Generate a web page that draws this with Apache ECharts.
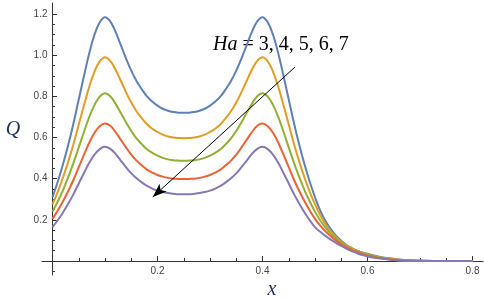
<!DOCTYPE html>
<html><head><meta charset="utf-8">
<script src="https://cdn.jsdelivr.net/npm/echarts@6/dist/echarts.min.js"></script>
<style>html,body{margin:0;padding:0;background:#fff}#c{width:484px;height:299px}</style>
</head><body><div id="c"></div>
<script>
const xs = [0,0.01,0.02,0.03,0.04,0.05,0.06,0.07,0.08,0.09,0.1,
  0.11,0.12,0.13,0.14,0.15,0.16,0.17,0.18,0.19,0.2,0.21,0.22,0.23,0.24,0.25,
  0.26,0.27,0.28,0.29,0.3,0.31,0.32,0.33,0.34,0.35,0.36,0.37,0.38,0.39,0.4,
  0.41,0.42,0.43,0.44,0.45,0.46,0.47,0.48,0.49,0.5,
  0.51,0.52,0.53,0.54,0.55,0.56,0.57,0.58,0.59,0.6,
  0.62,0.64,0.66,0.68,0.7,0.75,0.8];

const qHa3 = [0.31,0.385,0.47,0.565,0.67,0.785,0.9,1.01,1.1,1.16,1.185,
  1.165,1.115,1.05,0.985,0.925,0.875,0.835,0.80,0.775,0.755,0.74,0.73,0.724,0.721,0.72,
  0.721,0.724,0.73,0.74,0.755,0.775,0.80,0.835,0.875,0.925,0.985,1.05,1.115,1.165,1.185,
  1.16,1.1,1.01,0.9,0.785,0.67,0.565,0.47,0.385,0.31,
  0.245,0.195,0.155,0.123,0.098,0.078,0.063,0.05,0.042,0.035,
  0.022,0.013,0.007,0.003,0.001,0,0];

const qHa4 = [0.275,0.336,0.406,0.483,0.569,0.663,0.757,0.847,0.921,0.970,0.99,
  0.973,0.931,0.876,0.821,0.770,0.728,0.694,0.665,0.643,0.627,0.614,0.605,0.600,0.598,0.597,
  0.598,0.600,0.605,0.614,0.627,0.643,0.665,0.694,0.728,0.770,0.821,0.876,0.931,0.973,0.99,
  0.970,0.921,0.847,0.757,0.663,0.569,0.483,0.406,0.336,0.275,
  0.222,0.179,0.144,0.116,0.094,0.076,0.061,0.049,0.040,0.032,
  0.020,0.012,0.006,0.003,0.001,0,0];

const qHa5 = [0.24,0.289,0.345,0.408,0.477,0.552,0.628,0.70,0.759,0.799,0.815,
  0.801,0.765,0.720,0.674,0.632,0.596,0.568,0.543,0.526,0.512,0.501,0.494,0.490,0.488,0.487,
  0.488,0.490,0.494,0.501,0.512,0.526,0.543,0.568,0.596,0.632,0.674,0.720,0.765,0.801,0.815,
  0.799,0.759,0.70,0.628,0.552,0.477,0.408,0.345,0.289,0.24,
  0.197,0.162,0.132,0.108,0.088,0.071,0.057,0.046,0.037,0.029,
  0.018,0.010,0.005,0.002,0.001,0,0];

const qHa6 = [0.205,0.245,0.290,0.340,0.395,0.456,0.517,0.575,0.623,0.655,0.668,
  0.657,0.627,0.590,0.552,0.517,0.488,0.465,0.444,0.430,0.418,0.410,0.404,0.400,0.399,0.398,
  0.399,0.400,0.404,0.410,0.418,0.430,0.444,0.465,0.488,0.517,0.552,0.590,0.627,0.657,0.668,
  0.655,0.623,0.575,0.517,0.456,0.395,0.340,0.290,0.245,0.205,
  0.172,0.144,0.12,0.099,0.081,0.066,0.053,0.043,0.034,0.026,
  0.016,0.009,0.004,0.002,0.001,0,0];

const qHa7 = [0.165,0.198,0.236,0.279,0.325,0.377,0.428,0.477,0.517,0.544,0.555,
  0.545,0.521,0.488,0.456,0.426,0.402,0.382,0.365,0.352,0.342,0.335,0.330,0.327,0.325,0.325,
  0.325,0.327,0.330,0.335,0.342,0.352,0.365,0.382,0.402,0.426,0.456,0.488,0.521,0.545,0.555,
  0.544,0.517,0.477,0.428,0.377,0.325,0.279,0.236,0.198,0.165,
  0.142,0.122,0.104,0.088,0.073,0.06,0.048,0.038,0.029,0.022,
  0.013,0.007,0.003,0.001,0,0,0];

const seriesNames = ['Ha = 3','Ha = 4','Ha = 5','Ha = 6','Ha = 7'];
const seriesColors = ['#5E81B5','#E19C24','#8FB032','#EB6235','#8778B3'];

const xLabels = [0.2,0.4,0.6,0.8];
const xMajorTicks = [0.2,0.4,0.6,0.8];
const xMinorTicks = [0.05,0.1,0.15,0.25,0.3,0.35,0.45,0.5,0.55,0.65,0.7,0.75];
const yLabels = [0.2,0.4,0.6,0.8,1.0,1.2];
const yMajorTicks = [0.2,0.4,0.6,0.8,1.0,1.2];
const yMinorTicks = [-0.05,0.05,0.1,0.15,0.25,0.3,0.35,0.45,0.5,0.55,0.65,0.7,0.75,0.85,0.9,0.95,1.05,1.1,1.15];

const arrowFrom = [0.462, 0.943];
const arrowTo = [0.191, 0.311];

const chart = echarts.init(document.getElementById('c'), null, {renderer:'canvas'});
const allQ = [qHa3,qHa4,qHa5,qHa6,qHa7];
const axisCol = '#333';
const lblStyle = {color:'#444', fontSize:10, fontFamily:'Liberation Sans, Arial, sans-serif', formatter: v => Number(v).toFixed(1)};

// grid 0: plot with axis lines through the origin, ticks and data; grid 1: tick labels only
function xAx(major){
  return {
    gridIndex:0, type:'value', min:-0.02, max:0.82, position:'bottom',
    axisLine:{show:major, onZero:true, onZeroAxisIndex:0, lineStyle:{color:axisCol, width:1}},
    axisTick:{show:true, inside:true, length: major?5:3, customValues: major?xMajorTicks:xMinorTicks, lineStyle:{color:axisCol, width:1}},
    axisLabel:{show:false}, splitLine:{show:false}
  };
}
function yAx(major){
  return {
    gridIndex:0, type:'value', min:-0.068, max:1.254, position:'left',
    axisLine:{show:major, onZero:true, onZeroAxisIndex:0, lineStyle:{color:axisCol, width:1}},
    axisTick:{show:true, inside:true, length: major?4.5:2.5, customValues: major?yMajorTicks:yMinorTicks, lineStyle:{color:axisCol, width:1}},
    axisLabel:{show:false}, splitLine:{show:false}
  };
}
const xLabelAxis = {
  gridIndex:1, type:'value', min:0, max:0.8, position:'bottom',
  axisLine:{show:false, onZero:false}, axisTick:{show:false}, splitLine:{show:false},
  axisLabel:Object.assign({show:true, margin:5, customValues:xLabels, showMinLabel:true, showMaxLabel:true}, lblStyle)
};
const yLabelAxis = {
  gridIndex:1, type:'value', min:0, max:1.2, position:'left',
  axisLine:{show:false, onZero:false}, axisTick:{show:false}, splitLine:{show:false},
  axisLabel:Object.assign({show:true, margin:5, customValues:yLabels, showMinLabel:true, showMaxLabel:true}, lblStyle)
};

const series = allQ.map((arr,i) => ({
  name: seriesNames[i], type:'line', xAxisIndex:0, yAxisIndex:0,
  data: xs.map((x,k) => [x, arr[k]]),
  showSymbol:false, smooth:0.4,
  lineStyle:{color:seriesColors[i], width:2}, itemStyle:{color:seriesColors[i]},
  z: 2 + i, silent:true
}));
series[0].markLine = {
  silent:true, symbol:['none','arrow'], symbolSize:[8,14], animation:false,
  lineStyle:{color:'#000', width:1, type:'solid'}, label:{show:false}, emphasis:{disabled:true},
  data:[[{coord:arrowFrom},{coord:arrowTo}]], z: 20
};

chart.setOption({
  animation:false,
  backgroundColor:'#fff',
  grid:[
    {left:42, right:1, top:3, bottom:24, outerBoundsMode:'none', containLabel:false},
    {left:52.5, right:11.5, top:14.1, bottom:38, outerBoundsMode:'none', containLabel:false}
  ],
  xAxis:[xAx(true), xAx(false), xLabelAxis],
  yAxis:[yAx(true), yAx(false), yLabelAxis],
  series: series,
  graphic:[
    {type:'text', x:13, y:130, style:{text:'Q', font:'italic 20px "Liberation Serif", "Times New Roman", serif', fill:'#1d2c5e', align:'center', verticalAlign:'middle'}},
    {type:'text', x:272, y:290, style:{text:'x', font:'italic 20px "Liberation Serif", "Times New Roman", serif', fill:'#1d2c5e', align:'center', verticalAlign:'middle'}},
    {type:'text', x:213, y:45, style:{text:'{i|Ha} = 3, 4, 5, 6, 7', font:'20px "Liberation Serif", "Times New Roman", serif', fill:'#000', align:'left', verticalAlign:'middle',
      rich:{i:{fontStyle:'italic', fontSize:20, fontFamily:'"Liberation Serif", "Times New Roman", serif', fill:'#000'}}}}
  ]
});
</script></body></html>
